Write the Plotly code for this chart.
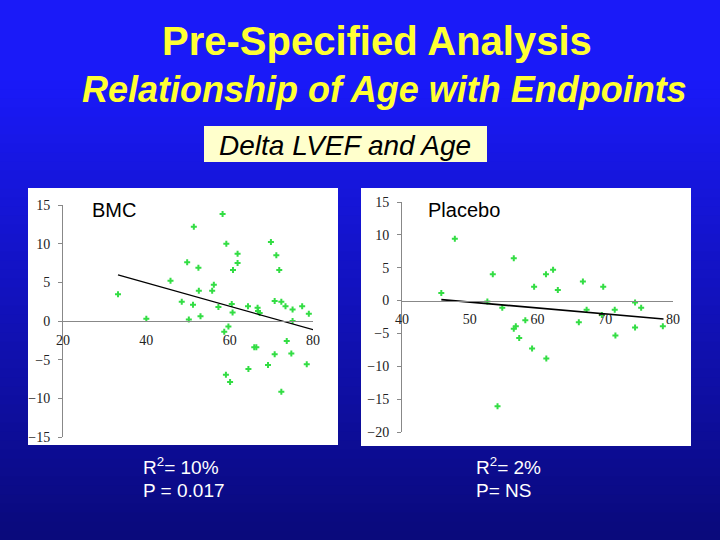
import plotly.graph_objects as go

# BMC group: age vs delta LVEF
bmc_age = [33.2, 40.0, 45.8, 48.5, 49.8, 50.2, 51.2, 51.4, 52.5, 52.6, 53.0,
           55.8, 56.2, 57.3, 58.3, 58.7, 59.1, 59.2, 59.7, 60.1, 60.5, 60.7,
           60.8, 61.9, 61.9, 64.4, 64.5, 65.9, 66.4, 66.7, 66.8, 67.2, 69.2,
           69.9, 70.8, 70.8, 71.2, 71.9, 72.4, 72.4, 73.4, 73.7, 74.8, 75.1,
           75.1, 77.4, 78.5, 79.0]
bmc_delta = [3.45, 0.3, 5.2, 2.5, 7.6, 0.2, 2.1, 12.2, 6.9, 3.9, 0.6,
             3.9, 4.7, 1.8, 13.85, -1.4, -6.95, 10.0, -0.7, -7.9, 2.2, 1.1,
             6.6, 8.7, 7.5, 1.9, -6.2, -3.4, -3.4, 1.7, 1.3, 1.05, -5.7,
             10.2, 2.6, -4.3, 8.5, 6.6, 2.5, -9.15, 1.9, -2.6, -4.2, 1.5,
             0.0, 1.9, -5.6, 0.95]
bmc_trend_x = [33.2, 80.0]
bmc_trend_y = [5.96, -1.12]

# Placebo group
pla_age = [45.8, 47.8, 52.6, 53.4, 54.1, 54.8, 56.5, 56.5, 56.8, 57.3, 58.2,
           59.2, 59.5, 61.3, 61.25, 62.3, 63.0, 66.1, 66.7, 67.25, 69.5, 69.7,
           71.4, 71.5, 74.4, 74.4, 75.3, 78.5]
pla_delta = [1.17, 9.4, -0.15, 4.0, -16.1, -1.1, -4.3, 6.45, -3.9, -5.7, -3.0,
             -7.3, 2.1, -8.8, 4.0, 4.7, 1.6, -3.3, 2.9, -1.4, -2.2, 2.1,
             -1.4, -5.3, -0.3, -4.1, -1.1, -3.9]
pla_trend_x = [45.8, 78.6]
pla_trend_y = [0.15, -2.8]

bmc_xticks = [20, 40, 60, 80]
bmc_yticks = [-15, -10, -5, 0, 5, 10, 15]
pla_xticks = [40, 50, 60, 70, 80]
pla_yticks = [-20, -15, -10, -5, 0, 5, 10, 15]

W, H = 720, 540
GREEN = '#33dd44'


def px_x(v):
    return v / W


def px_y(v):
    return 1 - v / H


fig = go.Figure()

# background gradient bands
shapes = []
n = 60
top = (26, 26, 248)
bot = (10, 10, 124)
for i in range(n):
    t = i / (n - 1)
    k = max(0.0, (t - 0.15) / 0.85)
    c = tuple(int(top[j] + (bot[j] - top[j]) * k) for j in range(3))
    shapes.append(dict(type='rect', xref='paper', yref='paper',
                       x0=0, x1=1, y0=1 - (i + 1) / n, y1=1 - i / n + 0.001,
                       fillcolor='rgb(%d,%d,%d)' % c, line_width=0, layer='below'))

# white panels and subtitle box
shapes.append(dict(type='rect', xref='paper', yref='paper', x0=px_x(28), x1=px_x(338),
                   y0=px_y(445), y1=px_y(188), fillcolor='white', line_width=0, layer='below'))
shapes.append(dict(type='rect', xref='paper', yref='paper', x0=px_x(361), x1=px_x(691),
                   y0=px_y(446), y1=px_y(188), fillcolor='white', line_width=0, layer='below'))
shapes.append(dict(type='rect', xref='paper', yref='paper', x0=px_x(204), x1=px_x(487),
                   y0=px_y(162), y1=px_y(126), fillcolor='#ffffcc', line_width=0, layer='below'))

# BMC
fig.add_trace(go.Scatter(x=bmc_age, y=bmc_delta, mode='markers',
                         marker=dict(symbol='cross', size=5, color=GREEN),
                         xaxis='x', yaxis='y', showlegend=False, hoverinfo='skip'))
fig.add_trace(go.Scatter(x=bmc_trend_x, y=bmc_trend_y, mode='lines',
                         line=dict(color='black', width=1.2),
                         xaxis='x', yaxis='y', showlegend=False, hoverinfo='skip'))
# Placebo
fig.add_trace(go.Scatter(x=pla_age, y=pla_delta, mode='markers',
                         marker=dict(symbol='cross', size=5, color=GREEN),
                         xaxis='x2', yaxis='y2', showlegend=False, hoverinfo='skip'))
fig.add_trace(go.Scatter(x=pla_trend_x, y=pla_trend_y, mode='lines',
                         line=dict(color='black', width=1.6),
                         xaxis='x2', yaxis='y2', showlegend=False, hoverinfo='skip'))

tickfont = dict(family='Liberation Serif', size=14, color='#222222')
axis_common = dict(showgrid=False, zeroline=False, showline=True, linecolor='#888888',
                   linewidth=1, tickfont=tickfont, fixedrange=True)

ydom1 = [px_y(437), px_y(205)]
ydom2 = [px_y(432), px_y(202)]
xpos1 = ydom1[0] + (ydom1[1] - ydom1[0]) * (0 - bmc_yticks[0]) / (bmc_yticks[-1] - bmc_yticks[0])
xpos2 = ydom2[0] + (ydom2[1] - ydom2[0]) * (0 - pla_yticks[0]) / (pla_yticks[-1] - pla_yticks[0])

fig.update_layout(
    width=W, height=H,
    margin=dict(l=0, r=0, t=0, b=0, autoexpand=False),
    paper_bgcolor='#1010a0',
    plot_bgcolor='rgba(0,0,0,0)',
    shapes=shapes,
    xaxis=dict(domain=[px_x(63), px_x(313)], range=[20, 80], tickvals=bmc_xticks,
               anchor='free', position=xpos1, ticks='', ticklabelstandoff=6, **axis_common),
    yaxis=dict(domain=ydom1, range=[-15, 15], tickvals=bmc_yticks, anchor='x',
               ticks='outside', ticklen=4, tickcolor='#888888', ticklabelstandoff=5,
               **axis_common),
    xaxis2=dict(domain=[px_x(402), px_x(673)], range=[40, 80], tickvals=pla_xticks,
                anchor='free', position=xpos2, ticks='', ticklabelstandoff=6, **axis_common),
    yaxis2=dict(domain=ydom2, range=[-20, 15], tickvals=pla_yticks, anchor='x2',
                ticks='outside', ticklen=4, tickcolor='#888888', ticklabelstandoff=5,
                **axis_common),
)

ann = [
    dict(text='<b>Pre-Specified Analysis</b>', x=px_x(377), y=px_y(41),
         font=dict(family='Liberation Sans', size=40, color='#ffff33')),
    dict(text='<b><i>Relationship of Age with Endpoints</i></b>', x=px_x(384), y=px_y(90),
         font=dict(family='Liberation Sans', size=36, color='#ffff33')),
    dict(text='<i>Delta LVEF and Age</i>', x=px_x(345), y=px_y(145),
         font=dict(family='Liberation Sans', size=28, color='black')),
    dict(text='BMC', x=px_x(90), y=px_y(210), xanchor='left',
         font=dict(family='Liberation Sans', size=20, color='black')),
    dict(text='Placebo', x=px_x(426), y=px_y(210), xanchor='left',
         font=dict(family='Liberation Sans', size=20, color='black')),
    dict(text='R<sup>2</sup>= 10%', x=px_x(141), y=px_y(466), xanchor='left',
         font=dict(family='Liberation Sans', size=19, color='white')),
    dict(text='P = 0.017', x=px_x(141), y=px_y(490), xanchor='left',
         font=dict(family='Liberation Sans', size=19, color='white')),
    dict(text='R<sup>2</sup>= 2%', x=px_x(474), y=px_y(466), xanchor='left',
         font=dict(family='Liberation Sans', size=19, color='white')),
    dict(text='P= NS', x=px_x(474), y=px_y(490), xanchor='left',
         font=dict(family='Liberation Sans', size=19, color='white')),
]
for a in ann:
    a.setdefault('xanchor', 'center')
    fig.add_annotation(xref='paper', yref='paper', showarrow=False, yanchor='middle', **a)

fig.write_html("out.html", config={'displayModeBar': False},
               post_script="document.body.style.margin='0';")
